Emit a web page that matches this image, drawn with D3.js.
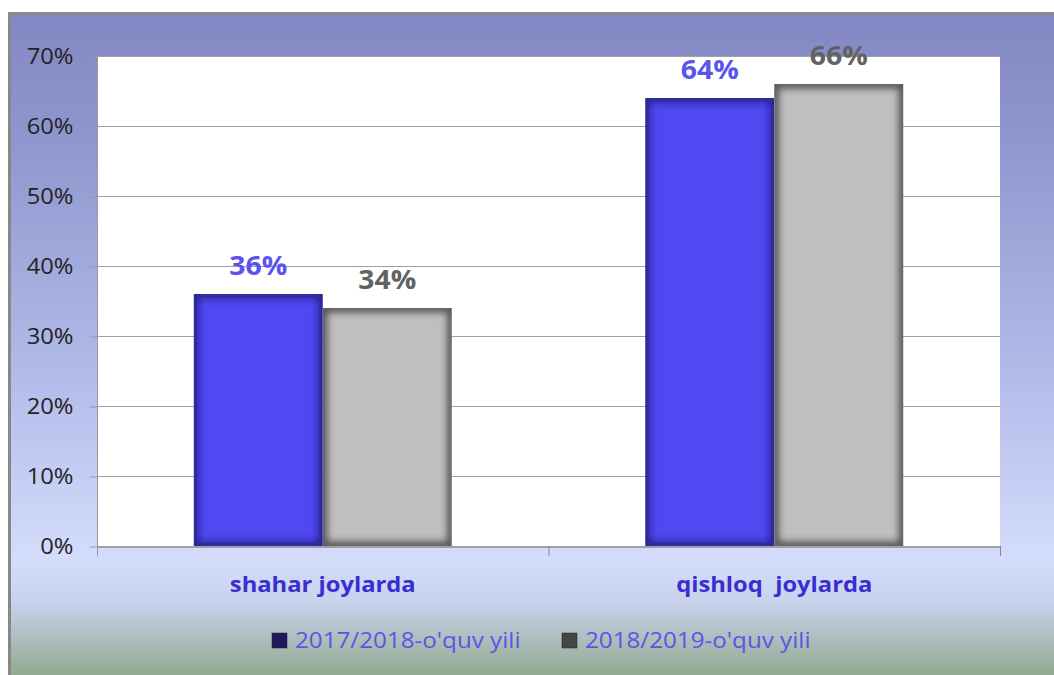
<!DOCTYPE html>
<html>
<head>
<meta charset="utf-8">
<script src="https://cdn.jsdelivr.net/npm/d3@7"></script>
<style>
body { margin: 0; background: #fff; }
svg text { font-family: "Open Sans", sans-serif; }
</style>
</head>
<body>
<script>
// data
var categories = ["shahar joylarda", "qishloq  joylarda"];
var seriesNames = ["2017/2018-o'quv yili", "2018/2019-o'quv yili"];
var values2017 = [36, 64];
var values2018 = [34, 66];
var yTicks = [0, 10, 20, 30, 40, 50, 60, 70];

var svgW = 1054, svgH = 675;
var plot = {left: 97, right: 1000, top: 56, bottom: 546};

var svg = d3.select("body").append("svg")
    .attr("width", svgW)
    .attr("height", svgH);

var defs = svg.append("defs");

// places text at (x,y) stretched a bit horizontally, like the original
function stretched(sel, x, y, sx) {
    return sel.attr("transform", "translate(" + x + "," + y + ") scale(" + sx + ",1)");
}

// background gradient
var bg = defs.append("linearGradient")
    .attr("id", "bg").attr("x1", 0).attr("y1", 0).attr("x2", 0).attr("y2", 1);
[[0, "#8387c3"], [0.2, "#9097cf"], [0.55, "#b3bbe9"], [0.83, "#d4ddfc"], [0.89, "#c8d2ec"], [1, "#92aa8f"]]
    .forEach(function(s) { bg.append("stop").attr("offset", s[0]).attr("stop-color", s[1]); });

defs.append("filter").attr("id", "blur")
    .attr("x", "-20%").attr("y", "-20%").attr("width", "140%").attr("height", "140%")
    .append("feGaussianBlur").attr("stdDeviation", 3.5);

// frame
svg.append("rect")
    .attr("x", 9).attr("y", 13)
    .attr("width", svgW - 9).attr("height", svgH - 13)
    .attr("fill", "url(#bg)");
svg.append("path")
    .attr("d", "M9.5," + svgH + "V13.5H" + svgW)
    .attr("fill", "none")
    .attr("stroke", "#888")
    .attr("stroke-width", 3);

// plot area
svg.append("rect")
    .attr("x", plot.left).attr("y", plot.top)
    .attr("width", plot.right - plot.left).attr("height", plot.bottom - plot.top)
    .attr("fill", "#fff");

var x0 = d3.scaleBand()
    .domain(categories)
    .range([plot.left, plot.right]);

var x1 = d3.scaleBand()
    .domain([0, 1])
    .range([0, x0.bandwidth()])
    .paddingOuter(0.75);

var yScale = d3.scaleLinear()
    .domain([0, 70])
    .range([plot.bottom, plot.top]);

// gridlines
svg.append("g")
    .selectAll("line")
    .data(yTicks.filter(function(d) { return d > 0; }))
    .enter().append("line")
    .attr("x1", plot.left).attr("x2", plot.right)
    .attr("y1", function(d) { return yScale(d) + 0.5; })
    .attr("y2", function(d) { return yScale(d) + 0.5; })
    .attr("stroke", "#a0a0a0");

// y axis
var yAxis = d3.axisLeft(yScale)
    .tickValues(yTicks)
    .tickSize(8)
    .tickPadding(16)
    .tickFormat(function(d) { return d + "%"; });

var gy = svg.append("g")
    .attr("transform", "translate(" + (plot.left + 0.5) + ",0.5)")
    .call(yAxis);
gy.select(".domain").remove();
gy.selectAll(".tick line").attr("stroke", "#999");
gy.selectAll(".tick text")
    .attr("fill", "#222")
    .style("font-size", "22px")
    .attr("x", null)
    .attr("transform", "translate(-24,0) scale(1.08,1)");
gy.append("line")
    .attr("x1", 0).attr("x2", 0)
    .attr("y1", plot.top).attr("y2", plot.bottom + 10)
    .attr("stroke", "#999");

// bars
var series = [values2017, values2018];
var fills = ["#5048f0", "#bfbfbf"];
var edges = ["#1d1670", "#3a3a3a"];

categories.forEach(function(cat, ci) {
    series.forEach(function(vals, si) {
        var bx = x0(cat) + x1(si);
        var by = yScale(vals[ci]);
        var bw = x1.bandwidth();
        var bh = plot.bottom - by;
        var id = "clip" + ci + "_" + si;
        defs.append("clipPath").attr("id", id)
            .append("rect").attr("x", bx).attr("y", by).attr("width", bw).attr("height", bh);
        var g = svg.append("g").attr("clip-path", "url(#" + id + ")");
        g.append("rect")
            .attr("x", bx).attr("y", by).attr("width", bw).attr("height", bh)
            .attr("fill", fills[si]);
        g.append("rect")
            .attr("x", bx).attr("y", by).attr("width", bw).attr("height", bh)
            .attr("fill", "none")
            .attr("stroke", edges[si])
            .attr("stroke-width", 9)
            .attr("stroke-opacity", 0.8)
            .attr("filter", "url(#blur)");
        stretched(svg.append("text"), bx + bw / 2, by - 19, 1.05)
            .attr("text-anchor", "middle")
            .attr("fill", si === 0 ? "#5a54ee" : "#626262")
            .style("font-size", "27px")
            .style("font-weight", "bold")
            .text(vals[ci] + "%");
    });
});

// x axis
var xAxisLine = svg.append("g");
xAxisLine.append("line")
    .attr("x1", plot.left).attr("x2", plot.right)
    .attr("y1", plot.bottom + 1).attr("y2", plot.bottom + 1)
    .attr("stroke", "#a0a0a0").attr("stroke-width", 2);
xAxisLine.selectAll(".xt")
    .data([plot.left + x0.bandwidth(), plot.right])
    .enter().append("line")
    .attr("x1", function(d) { return d + 0.5; })
    .attr("x2", function(d) { return d + 0.5; })
    .attr("y1", plot.bottom).attr("y2", plot.bottom + 10)
    .attr("stroke", "#888");

categories.forEach(function(cat) {
    stretched(svg.append("text"), x0(cat) + x0.bandwidth() / 2, 592, 1.08)
        .attr("text-anchor", "middle")
        .attr("fill", "#3a2ed0")
        .style("font-size", "22px")
        .style("font-weight", "bold")
        .style("white-space", "pre")
        .text(cat);
});

// legend
var legendX = [272, 562];
var legendColors = ["#1e1a5c", "#454545"];
var legend = svg.append("g");
seriesNames.forEach(function(name, i) {
    legend.append("rect")
        .attr("x", legendX[i]).attr("y", 633)
        .attr("width", 15).attr("height", 15)
        .attr("fill", legendColors[i])
        .attr("stroke", "#222").attr("stroke-width", 0.5);
    stretched(legend.append("text"), legendX[i] + 23, 648, 1.1)
        .attr("fill", "#5a54e8")
        .style("font-size", "22px")
        .style("font-weight", 500)
        .text(name);
});
</script>
</body>
</html>
